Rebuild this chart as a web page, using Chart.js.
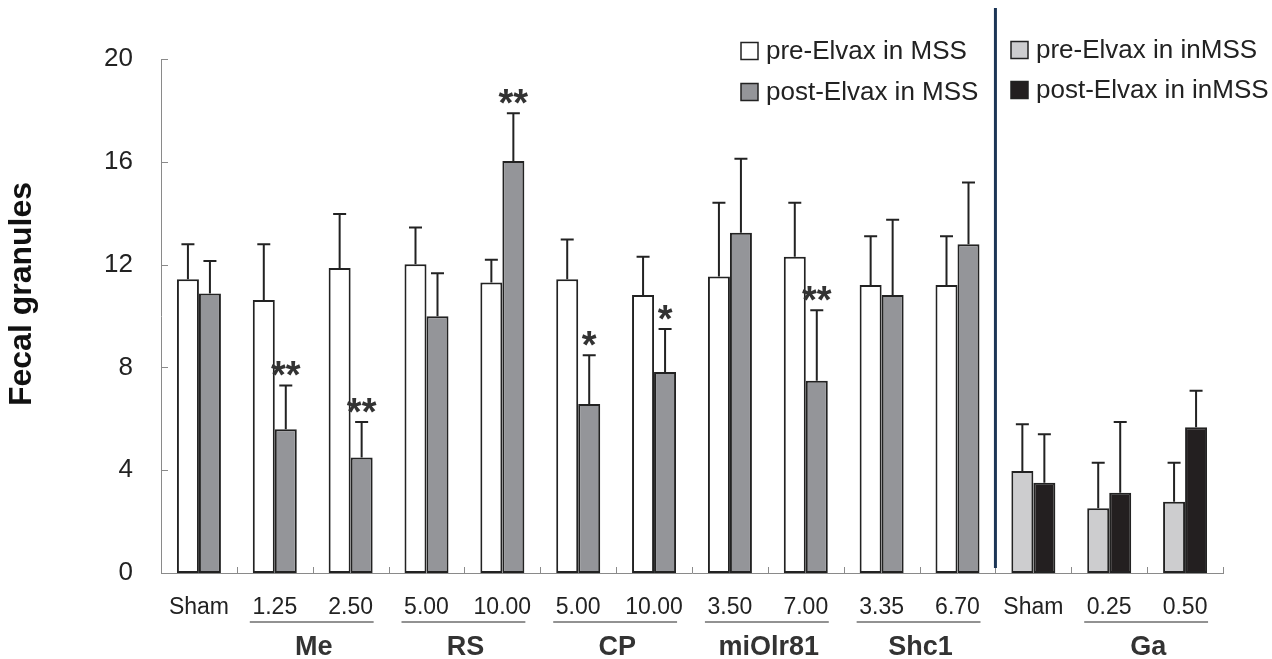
<!DOCTYPE html>
<html>
<head>
<meta charset="utf-8">
<script src="https://cdn.jsdelivr.net/npm/chart.js@4.4.1/dist/chart.umd.min.js"></script>
<style>
  html, body { margin: 0; padding: 0; background: #fff; }
  #wrap { width: 1272px; height: 659px; position: relative; }
</style>
</head>
<body>
<div id="wrap"><canvas id="chart"></canvas></div>
<script>
const categories = ["Sham", "1.25", "2.50", "5.00", "10.00", "5.00", "10.00", "3.50", "7.00", "3.35", "6.70", "Sham", "0.25", "0.50"];

const preMeans = [11.43, 10.62, 11.87, 12.01, 11.30, 11.43, 10.82, 11.54, 12.31, 11.21, 11.21, 3.97, 2.52, 2.77];
const preSD = [1.36, 2.17, 2.10, 1.43, 0.89, 1.55, 1.49, 2.87, 2.10, 1.89, 1.89, 1.82, 1.77, 1.52];
const postMeans = [10.88, 5.59, 4.49, 9.99, 16.03, 6.58, 7.82, 13.24, 7.48, 10.82, 12.79, 3.51, 3.12, 5.67];
const postSD = [1.26, 1.71, 1.39, 1.67, 1.86, 1.89, 1.67, 2.88, 2.74, 2.93, 2.40, 1.89, 2.76, 1.42];
const postSignif = ["", "**", "**", "", "**", "*", "*", "", "**", "", "", "", "", ""];

// first 11 categories are MSS, last 3 are inMSS
const MSS_COUNT = 11;

const groupNames = ["Me", "RS", "CP", "miOlr81", "Shc1", "Ga"];
const groupFirst = [1, 3, 5, 7, 9, 12];
const groupLast = [2, 4, 6, 8, 10, 13];

const yTicks = [0, 4, 8, 12, 16, 20];
const legendLabels = ["pre-Elvax in MSS", "post-Elvax in MSS", "pre-Elvax in inMSS", "post-Elvax in inMSS"];

const WHITE = "#ffffff";
const GRAY = "#949599";
const LIGHT = "#cdcdcf";
const BLACK = "#231f20";
const EDGE = "#222222";
const FONT = "'Liberation Sans', Arial, sans-serif";

const preColors = categories.map((c, i) => (i < MSS_COUNT ? WHITE : LIGHT));
const postColors = categories.map((c, i) => (i < MSS_COUNT ? GRAY : BLACK));

function boundaryX(xs, k) {
  // pixel of the boundary between category k-1 and k
  const a = xs.getPixelForValue(k - 1);
  const b = xs.getPixelForValue(k);
  return (a + b) / 2;
}

const extras = {
  id: "extras",
  afterDatasetsDraw(chart) {
    const ctx = chart.ctx;
    const xs = chart.scales.x;
    const ys = chart.scales.y;
    const area = chart.chartArea;
    ctx.save();

    // error bars (upper only)
    const sds = [preSD, postSD];
    chart.data.datasets.forEach((ds, di) => {
      const meta = chart.getDatasetMeta(di);
      meta.data.forEach((bar, i) => {
        const top = ys.getPixelForValue(ds.data[i] + sds[di][i]);
        ctx.strokeStyle = EDGE;
        ctx.lineWidth = 2;
        ctx.beginPath();
        ctx.moveTo(bar.x, bar.y);
        ctx.lineTo(bar.x, top);
        ctx.moveTo(bar.x - 6.5, top);
        ctx.lineTo(bar.x + 6.5, top);
        ctx.stroke();
        if (di === 1 && postSignif[i]) {
          ctx.fillStyle = "#333";
          ctx.font = "bold 38px " + FONT;
          ctx.textAlign = "center";
          ctx.textBaseline = "alphabetic";
          ctx.fillText(postSignif[i], bar.x, top + 3);
        }
      });
    });

    // inside tick marks
    ctx.strokeStyle = "#8a8a8a";
    ctx.lineWidth = 1;
    ctx.beginPath();
    yTicks.forEach((v) => {
      const y = Math.round(ys.getPixelForValue(v)) + 0.5;
      ctx.moveTo(area.left, y);
      ctx.lineTo(area.left + 7, y);
    });
    for (let k = 1; k <= categories.length; k++) {
      const x = k === categories.length ? area.right : boundaryX(xs, k);
      const xr = Math.round(x) + 0.5;
      ctx.moveTo(xr, area.bottom);
      ctx.lineTo(xr, area.bottom - 6);
    }
    ctx.stroke();

    // divider between MSS and inMSS
    const dx = boundaryX(xs, MSS_COUNT);
    ctx.strokeStyle = "#1c3556";
    ctx.lineWidth = 3;
    ctx.beginPath();
    ctx.moveTo(dx, 8);
    ctx.lineTo(dx, area.bottom - 5);
    ctx.stroke();

    // group underlines and names
    groupNames.forEach((name, g) => {
      const x1 = xs.getPixelForValue(groupFirst[g]) - 25;
      const x2 = xs.getPixelForValue(groupLast[g]) + 23;
      ctx.strokeStyle = "#6e6e6e";
      ctx.lineWidth = 1.5;
      ctx.beginPath();
      ctx.moveTo(x1, 622);
      ctx.lineTo(x2, 622);
      ctx.stroke();
      ctx.fillStyle = "#333";
      ctx.font = "bold 27px " + FONT;
      ctx.textAlign = "center";
      ctx.textBaseline = "alphabetic";
      ctx.fillText(name, (x1 + x2) / 2 + 2, 655);
    });

    // legends
    const legendColors = [WHITE, GRAY, LIGHT, BLACK];
    const legendPos = [[741, 51], [741, 92], [1011, 50], [1011, 90]];
    legendLabels.forEach((label, i) => {
      const [lx, ly] = legendPos[i];
      ctx.fillStyle = legendColors[i];
      ctx.fillRect(lx, ly - 8.5, 17, 17);
      ctx.strokeStyle = EDGE;
      ctx.lineWidth = 1.5;
      ctx.strokeRect(lx, ly - 8.5, 17, 17);
      ctx.fillStyle = "#222";
      ctx.font = "26px " + FONT;
      ctx.textAlign = "left";
      ctx.textBaseline = "middle";
      ctx.fillText(label, lx + 25, ly + 1);
    });

    // y axis title
    ctx.translate(22, 294);
    ctx.rotate(-Math.PI / 2);
    ctx.fillStyle = "#111";
    ctx.font = "bold 32px " + FONT;
    ctx.textAlign = "center";
    ctx.textBaseline = "middle";
    ctx.fillText("Fecal granules", 0, 0);

    ctx.restore();
  },
};

new Chart(document.getElementById("chart").getContext("2d"), {
  type: "bar",
  data: {
    labels: categories,
    datasets: [
      {
        label: "pre-Elvax",
        data: preMeans,
        backgroundColor: preColors,
        borderColor: EDGE,
        borderWidth: 2,
        borderSkipped: false,
      },
      {
        label: "post-Elvax",
        data: postMeans,
        backgroundColor: postColors,
        borderColor: EDGE,
        borderWidth: 2,
        borderSkipped: false,
      },
    ],
  },
  options: {
    animation: false,
    responsive: true,
    maintainAspectRatio: false,
    layout: { padding: { top: 59, right: 49, left: 0, bottom: 0 } },
    plugins: { legend: { display: false }, tooltip: { enabled: false } },
    datasets: { bar: { categoryPercentage: 0.58, barPercentage: 1.0 } },
    scales: {
      x: {
        grid: { display: false },
        border: { display: true, color: "#8a8a8a", width: 1 },
        ticks: { color: "#222", font: { family: FONT, size: 23 }, padding: 13, maxRotation: 0, autoSkip: false },
        afterFit(scale) { scale.height = 86; },
      },
      y: {
        min: 0,
        max: 20,
        grid: { display: false },
        border: { display: true, color: "#8a8a8a", width: 1 },
        afterBuildTicks(scale) { scale.ticks = yTicks.map((v) => ({ value: v })); },
        ticks: { color: "#222", font: { family: FONT, size: 26 }, padding: 20 },
        afterFit(scale) { scale.width = 161; },
      },
    },
  },
  plugins: [extras],
});
</script>
</body>
</html>
